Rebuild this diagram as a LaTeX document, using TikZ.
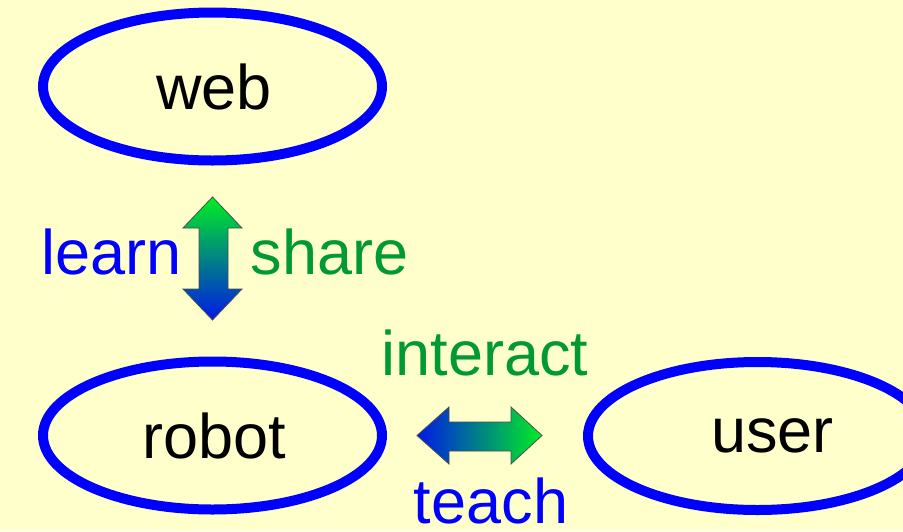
\documentclass[tikz,border=0pt]{standalone}
\usepackage{fontspec}
\setmainfont{Liberation Sans}
\usetikzlibrary{shapes.geometric}
\definecolor{bgyellow}{HTML}{FFFFCC}
\definecolor{ellblue}{HTML}{0000FF}
\definecolor{txtblue}{HTML}{0000FF}
\definecolor{txtgreen}{HTML}{009933}
\definecolor{arrgreen}{HTML}{00EE22}
\definecolor{arrblue}{HTML}{0018E8}
\tikzset{
  oval/.style={ellipse, draw=ellblue, line width=10pt, minimum width=339pt, minimum height=148pt, inner sep=0pt},
  lbl/.style={anchor=base, inner sep=0pt, font=\fontsize{63}{70}\selectfont},
  bluelbl/.style={lbl, text=txtblue},
  greenlbl/.style={lbl, text=txtgreen},
  fatarrow/.style={draw=black!70, line width=0.8pt}
}
\begin{document}
\begin{tikzpicture}[x=1pt,y=-1pt]
\fill[bgyellow] (0,0) rectangle (903,531);
\useasboundingbox (0,0) rectangle (903,531);
% ovals
\node[oval] (web) at (212.5,86.5) {};
\node[oval] (robot) at (212.5,435.5) {};
\node[oval] (user) at (757.5,436) {};
% texts
\node[lbl] (webt) at (214,109) {web};
\node[lbl] (robott) at (214,458) {robot};
\node[lbl] (usert) at (772.5,452) {user};
\node[bluelbl] (learn) at (111.5,274) {learn};
\node[greenlbl] (share) at (329.5,274) {share};
\node[greenlbl] (interact) at (485,375) {interact};
\node[bluelbl] (teach) at (491,523) {teach};
% vertical double arrow
\shade[fatarrow, top color=arrgreen, bottom color=arrblue]
  (212.5,197) -- (242,228) -- (228,228) -- (228,289) -- (242,289) -- (212.5,320)
  -- (183,289) -- (199,289) -- (199,228) -- (183,228) -- cycle;
% horizontal double arrow
\shade[fatarrow, left color=arrblue, right color=arrgreen]
  (417,435.5) -- (449,407) -- (449,422) -- (511,422) -- (511,407) -- (542,435.5)
  -- (511,464) -- (511,451) -- (449,451) -- (449,464) -- cycle;
\end{tikzpicture}
\end{document}
